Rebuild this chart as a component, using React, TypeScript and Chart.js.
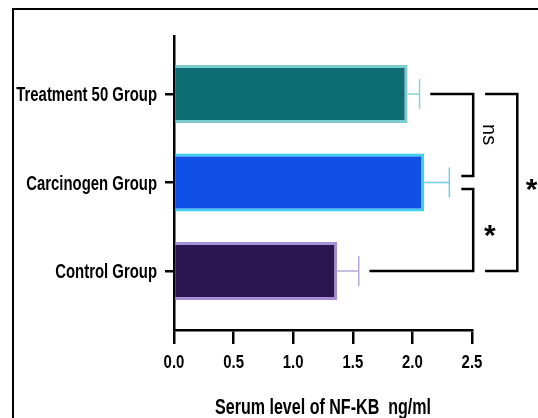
import React, { useEffect, useRef } from 'react';
import { Chart, registerables } from 'chart.js';

Chart.register(...registerables);

// ---- data ----
const categories = ['Treatment 50 Group', 'Carcinogen Group', 'Control Group'];
const means = [1.96, 2.1, 1.37];
const errors = [0.1, 0.21, 0.18];
const xTicks = [0, 0.5, 1.0, 1.5, 2.0, 2.5];
const xTitle = 'Serum level of NF-KB  ng/ml';

// ---- styles ----
const fillColors = ['#0e6c73', '#1150e6', '#2c1652'];
const borderColors = ['#7ccbd0', '#3fcff2', '#a78fd6'];
const errorColors = ['#8fd0d4', '#6fd0e4', '#b9a9d4'];
const FONT = "'Liberation Sans', Arial, sans-serif";

// significance brackets (in plot units: x = value axis, y = category index)
const brackets = [
  { yTop: 0, yBot: 0.927, xTopStart: 2.15, xBotStart: 2.41, xV: 2.51 },
  { yTop: 1.073, yBot: 2, xTopStart: 2.41, xBotStart: 1.64, xV: 2.51 },
  { yTop: 0, yBot: 2, xTopStart: 2.61, xBotStart: 2.61, xV: 2.88 },
];
const sigLabels = [
  { text: 'ns', x: 2.64, y: 0.46, rotate: true },
  { text: '*', x: 2.65, y: 1.52, rotate: false },
  { text: '*', x: 3.0, y: 1.0, rotate: false },
];

// draw condensed text (the reference uses a condensed bold face)
function condensedText(ctx: any, text: string, x: number, y: number, size: number, sx: number, align: string) {
  ctx.save();
  ctx.translate(x, y);
  ctx.scale(sx, 1);
  ctx.font = `bold ${size}px ${FONT}`;
  ctx.fillStyle = '#000';
  ctx.textAlign = align;
  ctx.textBaseline = 'alphabetic';
  ctx.fillText(text, 0, 0);
  ctx.restore();
}

const annotPlugin = {
  id: 'annot',
  afterDatasetsDraw(chart: any) {
    const { ctx } = chart;
    const xs = chart.scales.x;
    const ys = chart.scales.y;
    ctx.save();
    // error bars
    means.forEach((m, i) => {
      const yp = ys.getPixelForValue(i);
      const x0 = xs.getPixelForValue(m);
      const x1 = xs.getPixelForValue(m + errors[i]);
      ctx.strokeStyle = errorColors[i];
      ctx.lineWidth = 1.5;
      ctx.beginPath();
      ctx.moveTo(x0, yp);
      ctx.lineTo(x1, yp);
      ctx.moveTo(x1, yp - 15);
      ctx.lineTo(x1, yp + 15);
      ctx.stroke();
    });
    // brackets
    ctx.strokeStyle = '#000';
    ctx.lineWidth = 2.5;
    ctx.lineJoin = 'miter';
    brackets.forEach((b) => {
      ctx.beginPath();
      ctx.moveTo(xs.getPixelForValue(b.xTopStart), ys.getPixelForValue(b.yTop));
      ctx.lineTo(xs.getPixelForValue(b.xV), ys.getPixelForValue(b.yTop));
      ctx.lineTo(xs.getPixelForValue(b.xV), ys.getPixelForValue(b.yBot));
      ctx.lineTo(xs.getPixelForValue(b.xBotStart), ys.getPixelForValue(b.yBot));
      ctx.stroke();
    });
    // significance labels
    ctx.fillStyle = '#000';
    ctx.textAlign = 'center';
    sigLabels.forEach((l) => {
      const px = xs.getPixelForValue(l.x);
      const py = ys.getPixelForValue(l.y);
      ctx.save();
      ctx.translate(px, py);
      if (l.rotate) {
        ctx.rotate(Math.PI / 2);
        ctx.font = `20px ${FONT}`;
        ctx.textBaseline = 'middle';
        ctx.fillText(l.text, 0, 0);
      } else {
        ctx.font = `bold 30px ${FONT}`;
        ctx.textBaseline = 'alphabetic';
        ctx.fillText(l.text, 0, 17);
      }
      ctx.restore();
    });
    ctx.restore();
  },
  afterDraw(chart: any) {
    const { ctx } = chart;
    const xs = chart.scales.x;
    const ys = chart.scales.y;
    // category labels
    categories.forEach((c, i) => {
      condensedText(ctx, c, ys.right - 17, ys.getPixelForValue(i) + 7.2, 20, 0.745, 'right');
    });
    // value tick labels
    xTicks.forEach((v) => {
      condensedText(ctx, v.toFixed(1), xs.getPixelForValue(v), 368, 18, 0.83, 'center');
    });
    // axis title
    condensedText(ctx, xTitle, (xs.left + xs.right) / 2, 414, 22, 0.73, 'center');
    // frame
    ctx.save();
    ctx.strokeStyle = '#000';
    ctx.lineWidth = 2;
    ctx.strokeRect(13, 9, 700, 700);
    ctx.restore();
  },
};

export default function App() {
  const ref = useRef<HTMLCanvasElement | null>(null);
  useEffect(() => {
    if (!ref.current) return;
    const chart = new Chart(ref.current, {
      type: 'bar',
      data: {
        datasets: [
          {
            data: means.map((m, i) => ({ x: m, y: i })),
            backgroundColor: fillColors,
            borderColor: borderColors,
            borderWidth: 3,
            borderSkipped: 'start',
            barPercentage: 0.655,
            categoryPercentage: 1,
          },
        ],
      },
      options: {
        indexAxis: 'y',
        animation: false,
        responsive: false,
        maintainAspectRatio: false,
        layout: { padding: { left: 0, right: 66, top: 36, bottom: 0 } },
        plugins: { legend: { display: false }, tooltip: { enabled: false } },
        scales: {
          y: {
            type: 'linear',
            reverse: true,
            offset: false,
            min: -0.655,
            max: 2.667,
            afterBuildTicks: (s: any) => {
              s.ticks = categories.map((_, i) => ({ value: i }));
            },
            afterFit: (s: any) => {
              s.width = 174;
            },
            ticks: { display: false, autoSkip: false },
            grid: {
              offset: false,
              drawOnChartArea: false,
              drawTicks: true,
              tickLength: 9,
              color: '#000',
              lineWidth: 2.5,
            },
            border: { color: '#000', width: 2.5 },
          },
          x: {
            type: 'linear',
            min: 0,
            max: 2.5,
            afterBuildTicks: (s: any) => {
              s.ticks = xTicks.map((v) => ({ value: v }));
            },
            afterFit: (s: any) => {
              s.height = 88;
            },
            ticks: { display: false, autoSkip: false },
            grid: {
              drawOnChartArea: false,
              drawTicks: true,
              tickLength: 14,
              color: '#000',
              lineWidth: 2.5,
            },
            border: { color: '#000', width: 2.5 },
          },
        },
      },
      plugins: [annotPlugin],
    });
    return () => chart.destroy();
  }, []);
  return (
    <div style={{ position: 'fixed', left: 0, top: 0, width: 538, height: 418, background: '#fff' }}>
      <canvas ref={ref} width={538} height={418} style={{ width: 538, height: 418 }} />
    </div>
  );
}
